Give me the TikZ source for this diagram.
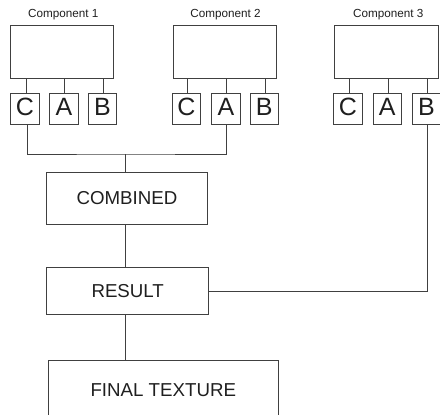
\documentclass[tikz,border=0pt]{standalone}
\usepackage{fontspec}
\setmainfont{Liberation Sans}
\usetikzlibrary{calc}
\begin{document}
\begin{tikzpicture}[x=1pt,y=-1pt,
  ln/.style={draw=black!75,line width=0.9pt},
  mainbox/.style={ln,rectangle,inner sep=0pt,minimum width=102.7pt,minimum height=53pt},
  subbox/.style={ln,rectangle,inner sep=0pt,minimum width=28.5pt,minimum height=31pt,
     font=\fontsize{25}{25}\selectfont,text=black!88,text height=17.9pt,text depth=4pt},
  procbox/.style={ln,rectangle,inner sep=0pt,font=\fontsize{18.7}{20}\selectfont,text=black!88},
  complabel/.style={anchor=base,font=\fontsize{11.7}{12}\selectfont,text=black!88},
  wire/.style={draw=black!75,line width=0.9pt}]
\useasboundingbox (0,0) rectangle (440,415);
\clip (0,0) rectangle (440,415);
% components
\node[mainbox] (m1) at (62,51.5) {};
\node[mainbox] (m2) at (224.7,51.5) {};
\node[mainbox,minimum width=104pt] (m3) at (386.3,51.5) {};
\node[complabel] (l1) at (63.3,17.8) {Component 1};
\node[complabel] (l2) at (225.5,17.8) {Component 2};
\node[complabel] (l3) at (388.3,17.8) {Component 3};
% sub boxes
\node[subbox] (c1) at (25,108.7) {C};
\node[subbox] (a1) at (63.9,108.7) {A};
\node[subbox] (b1) at (102.5,108.7) {B};
\node[subbox] (c2) at (186.5,108.7) {C};
\node[subbox] (a2) at (225.9,108.7) {A};
\node[subbox] (b2) at (264.2,108.7) {B};
\node[subbox] (c3) at (348,108.7) {C};
\node[subbox] (a3) at (387.2,108.7) {A};
\node[subbox] (b3) at (426.5,108.7) {B};
% stubs
\foreach \s/\m in {c1/m1,a1/m1,b1/m1,c2/m2,a2/m2,b2/m2,c3/m3,a3/m3,b3/m3}{
  \draw[wire] ([xshift=1pt]\s.north) -- ([xshift=1pt]\s.north |- \m.south);
}
% process boxes
\node[procbox,minimum width=160.6pt,minimum height=52.4pt] (comb) at (127,198.5) {COMBINED};
\node[procbox,minimum width=162pt,minimum height=47.4pt] (res) at (127.7,291) {RESULT};
\node[procbox,minimum width=230pt,minimum height=60pt] (fin) at (163.3,390) {FINAL TEXTURE};
% bus
\coordinate (j) at (125,154);
\draw[wire] ([xshift=2pt]c1.south) |- (j) -| ([xshift=1pt]a2.south);
\draw[wire] (j) -- (j |- comb.north);
\draw[wire] (j |- comb.south) -- (j |- res.north);
\draw[wire] (j |- res.south) -- (j |- fin.north);
\draw[wire] (res.east) -| ([xshift=0.5pt]b3.south);
\end{tikzpicture}
\end{document}
